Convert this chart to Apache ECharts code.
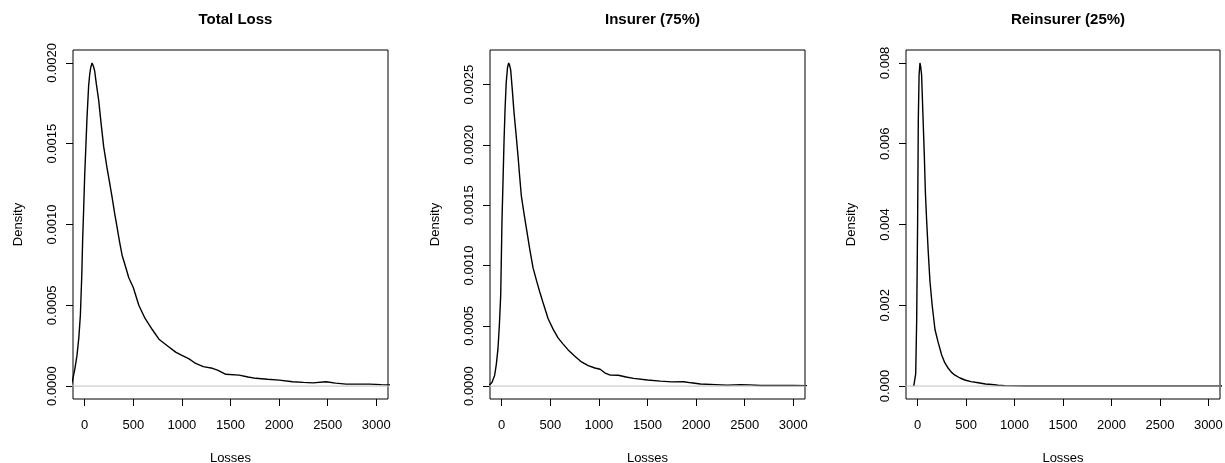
<!DOCTYPE html>
<html>
<head>
<meta charset="utf-8">
<script src="https://cdn.jsdelivr.net/npm/echarts@6/dist/echarts.min.js"></script>
<style>
html,body{margin:0;padding:0;background:#fff;}
#chart{width:1225px;height:463px;}
</style>
</head>
<body>
<div id="chart"></div>
<script>
// ---- data ----
const panelTitles = ['Total Loss', 'Insurer (75%)', 'Reinsurer (25%)'];
const xAxisTitle = 'Losses';
const yAxisTitle = 'Density';
const xTicks = [0, 500, 1000, 1500, 2000, 2500, 3000];
const yTicksTotal = [0, 0.0005, 0.001, 0.0015, 0.002];
const yTicksInsurer = [0, 0.0005, 0.001, 0.0015, 0.002, 0.0025];
const yTicksReinsurer = [0, 0.002, 0.004, 0.006, 0.008];
const yDigits = [4, 4, 3];
const zeroLineX = [-200, 3200];
const zeroLineY = [0, 0];

const totalX = [-140,-124,-100,-79,-60,-44,-30,-21,-10,0,12,24,41,52,62,76,90,103,120,144,170,196,230,256,282,308,334,360,385,420,454,500,557,620,695,764,850,936,1000,1070,1142,1220,1314,1366,1452,1589,1680,1761,1880,2002,2139,2250,2346,2484,2580,2690,2800,2931,3050,3150];
const totalY = [0.000005,0.000037,0.00011,0.00019,0.00030,0.00044,0.00068,0.00090,0.00110,0.00130,0.00148,0.00166,0.00186,0.00193,0.00197,0.00200,0.00198,0.00195,0.00187,0.00177,0.00162,0.00148,0.00135,0.00126,0.00117,0.00107,0.00098,0.00089,0.00081,0.00074,0.00067,0.00061,0.00050,0.00042,0.00035,0.00029,0.00025,0.00021,0.00019,0.00017,0.00014,0.00012,0.00011,0.000099,0.000073,0.000068,0.000056,0.000048,0.000042,0.000037,0.000027,0.000023,0.000020,0.000027,0.000018,0.000012,0.000012,0.000012,0.000009,0.000007];

const insurerX = [-140,-124,-100,-72,-55,-38,-24,-10,3,14,24,35,47,60,72,82,93,110,127,148,168,185,202,228,254,290,323,360,392,430,477,530,580,630,684,750,821,890,959,1013,1060,1116,1199,1280,1357,1500,1632,1750,1872,1950,2044,2200,2320,2457,2550,2663,2850,3006,3150];
const insurerY = [0,0.000008,0.00003,0.00009,0.00018,0.00031,0.00050,0.00075,0.00136,0.00170,0.00202,0.00230,0.00252,0.00264,0.00268,0.00266,0.00262,0.00245,0.00227,0.00209,0.00191,0.00174,0.00158,0.00144,0.00131,0.00113,0.00098,0.00087,0.00078,0.00068,0.00056,0.00047,0.00040,0.00035,0.00030,0.00025,0.00020,0.00017,0.00015,0.00014,0.00011,0.000091,0.000090,0.000075,0.000064,0.000050,0.000041,0.000035,0.000036,0.000027,0.000017,0.000012,0.000008,0.000012,0.000010,0.000005,0.000005,0.000005,0.000004];

const reinsurerX = [-40,-28,-20,-10,0,7,15,24,32,41,55,69,80,93,110,127,150,179,210,248,280,316,350,385,437,488,550,626,700,764,830,901,1000,1100,1300,1450,1500,3150];
const reinsurerY = [0,0,0.0003,0.0016,0.0041,0.0066,0.0077,0.0080,0.0079,0.0077,0.0067,0.0057,0.0048,0.0041,0.0033,0.0026,0.0020,0.0014,0.0011,0.00077,0.00058,0.00044,0.00034,0.00027,0.00020,0.00015,0.00011,0.000083,0.00005,0.00004,0.00002,0.00001,0.000005,0.000002,0,0.000003,0,0];

// ---- layout ----
const FONT = '"Liberation Sans", Arial, sans-serif';
const xMin = -120, xMax = 3120;
const panels = [
  {left: 73, width: 315, x: totalX, y: totalY, ticks: yTicksTotal},
  {left: 490, width: 315, x: insurerX, y: insurerY, ticks: yTicksInsurer},
  {left: 906, width: 314, x: reinsurerX, y: reinsurerY, ticks: yTicksReinsurer}
];
const gridTop = 50, gridHeight = 349;

function pairs(xs, ys) { return xs.map((v, i) => [v, ys[i]]); }

const curveSeries = panels.map((p, i) => ({
  type: 'line', xAxisIndex: i, yAxisIndex: i, z: 2,
  data: pairs(p.x, p.y),
  showSymbol: false, symbol: 'none', clip: true, smooth: false,
  lineStyle: {color: '#000', width: 1.4}
}));
const zeroSeries = panels.map((p, i) => ({
  type: 'line', xAxisIndex: i, yAxisIndex: i, z: 3,
  data: pairs(zeroLineX, zeroLineY),
  showSymbol: false, symbol: 'none', clip: true, silent: true,
  lineStyle: {color: '#bebebe', width: 1}
}));

const option = {
  backgroundColor: '#ffffff',
  animation: false,
  title: panels.map((p, i) => ({
    text: panelTitles[i],
    left: p.left + p.width / 2,
    top: 7,
    textAlign: 'center',
    textStyle: {fontFamily: FONT, fontSize: 15, fontWeight: 'bold', color: '#000'}
  })),
  grid: panels.map(p => ({
    left: p.left, top: gridTop, width: p.width, height: gridHeight,
    show: true, borderColor: '#000', borderWidth: 1, backgroundColor: 'transparent',
    containLabel: false, outerBoundsMode: 'none'
  })),
  xAxis: panels.map((p, i) => ({
    type: 'value', gridIndex: i, min: xMin, max: xMax,
    name: xAxisTitle, nameLocation: 'middle', nameGap: 53,
    nameTextStyle: {fontFamily: FONT, fontSize: 13, color: '#000'},
    axisLine: {show: false, onZero: false},
    axisTick: {show: true, inside: false, length: 7, customValues: xTicks, lineStyle: {color: '#000', width: 1}},
    axisLabel: {show: true, margin: 20, customValues: xTicks, fontFamily: FONT, fontSize: 13, color: '#000',
      formatter: v => String(v)},
    splitLine: {show: false}
  })),
  yAxis: panels.map((p, i) => {
    const dataMax = Math.max.apply(null, p.y);
    const pad = 0.04 * dataMax;
    return {
      type: 'value', gridIndex: i, min: -pad, max: dataMax + pad,
      name: yAxisTitle, nameLocation: 'middle', nameGap: 48, nameRotate: 90,
      nameTextStyle: {fontFamily: FONT, fontSize: 13, color: '#000'},
      axisLine: {show: false, onZero: false},
      axisTick: {show: true, inside: false, length: 7, customValues: p.ticks, lineStyle: {color: '#000', width: 1}},
      axisLabel: {show: true, rotate: 90, margin: 14, customValues: p.ticks, fontFamily: FONT, fontSize: 13, color: '#000',
        formatter: v => Number(v).toFixed(yDigits[i])},
      splitLine: {show: false}
    };
  }),
  series: curveSeries.concat(zeroSeries)
};

const chart = echarts.init(document.getElementById('chart'), null, {renderer: 'canvas'});
chart.setOption(option);
</script>
</body>
</html>
